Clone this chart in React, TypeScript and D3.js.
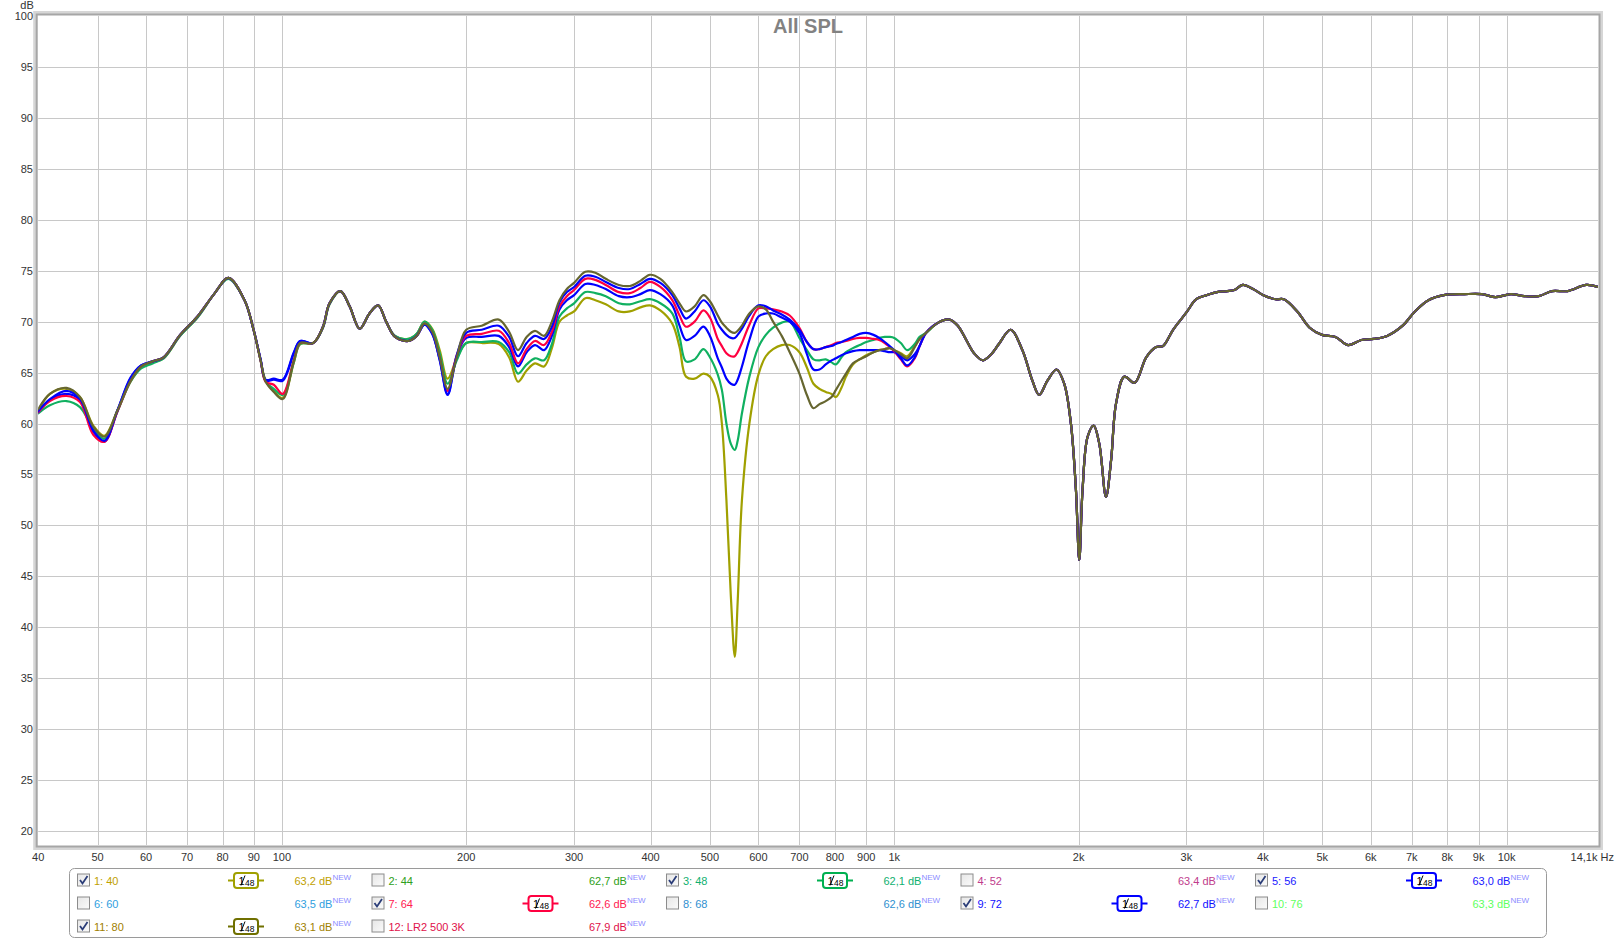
import React from 'react';
import * as d3 from 'd3';

const W = 1617;
const H = 940;
const PLOT = { left: 38.2, right: 1598, top: 16, bottom: 845 };

// ---------- data ----------
const LM_FREQ = [40, 41.8, 44.5, 46.8, 49.2, 51.3, 53.9, 56.6, 58.9, 61.5,
  64.1, 68.2, 72.8, 77.7, 81.8, 86.9, 89.9, 92.3, 94.1, 97,
  100.3, 104.6, 107.1, 112.5, 116.7, 119.6, 124.6, 129, 134, 139,
  143.6, 148, 153, 161, 166, 171, 176, 181, 186.5, 193,
  200, 212, 226, 235, 243, 251, 259, 268, 276, 284,
  292, 300, 313, 325, 338, 355, 370, 385, 399, 415,
  434, 446, 457, 472, 488, 500, 515, 523, 532, 541,
  549, 555, 564, 580, 600, 617, 634, 655, 675, 700,
  720, 738, 755, 773, 790, 803, 820, 834, 856, 878,
  900, 925, 945, 965, 983, 1000, 1025, 1050, 1080, 1100];

const S1_40 = [61.2, 62.9, 63.4, 62.6, 59.8, 58.8, 61.3, 64.1, 65.5, 66.0,
  66.4, 68.6, 70.4, 72.8, 74.3, 72.1, 69.2, 66.2, 64.2, 63.2,
  62.5, 66.0, 67.8, 67.9, 69.4, 71.7, 73.0, 71.5, 69.3, 70.8,
  71.6, 70.0, 68.6, 68.3, 68.8, 70.0, 69.3, 67.2, 64.4, 66.4,
  67.9, 67.9, 67.8, 66.5, 64.1, 65.2, 65.9, 65.6, 67.4, 70.0,
  70.6, 71.0, 72.3, 72.1, 71.7, 71.0, 71.0, 71.4, 71.6, 71.1,
  69.8, 67.5, 64.6, 64.4, 64.9, 64.6, 62.8, 60.0, 52.5, 43.0,
  37.1, 42.5, 52.5, 60.0, 64.8, 66.6, 67.3, 67.7, 67.7, 67.0,
  65.5, 63.9, 63.4, 63.1, 62.9, 62.6, 63.5, 64.6, 65.8, 66.3,
  66.7, 67.0, 67.2, 67.3, 67.4, 67.2, 66.9, 66.6, 67.6, 68.3];

const S3_48 = [61.0, 61.8, 62.2, 61.6, 59.5, 58.5, 61.2, 64.1, 65.4, 65.9,
  66.4, 68.6, 70.4, 72.8, 74.2, 72.1, 69.2, 66.2, 64.1, 63.4,
  62.8, 66.0, 67.8, 67.9, 69.4, 71.7, 73.0, 71.5, 69.3, 70.8,
  71.6, 70.0, 68.6, 68.3, 68.8, 70.0, 69.2, 66.9, 63.9, 66.2,
  67.9, 68.0, 68.0, 67.0, 64.9, 65.8, 66.4, 66.2, 67.8, 70.5,
  71.3, 71.8, 72.9, 72.8, 72.5, 71.8, 71.7, 72.0, 72.2, 71.8,
  70.8, 68.5, 66.1, 66.3, 67.3, 66.5, 64.8, 63.3, 60.0, 58.0,
  57.4, 58.3, 61.0, 64.6, 67.5, 68.7, 69.4, 69.9, 70.0, 68.4,
  67.2, 66.3, 66.2, 66.3, 66.0, 65.8, 66.5, 67.0, 67.4, 67.7,
  68.0, 68.2, 68.4, 68.5, 68.5, 68.4, 67.9, 67.2, 67.8, 68.5];

const S5_56 = [61.1, 62.3, 62.9, 62.3, 59.2, 58.2, 61.3, 64.4, 65.7, 66.1,
  66.5, 68.7, 70.5, 72.8, 74.3, 72.1, 69.2, 66.3, 64.2, 64.3,
  64.2, 66.9, 68.1, 67.9, 69.5, 71.8, 73.0, 71.5, 69.3, 70.8,
  71.6, 70.0, 68.5, 68.1, 68.6, 69.7, 68.8, 66.3, 62.9, 66.6,
  68.4, 68.5, 68.6, 67.5, 65.6, 67.0, 67.7, 67.2, 68.6, 71.2,
  72.1, 72.6, 73.7, 73.6, 73.2, 72.5, 72.4, 72.7, 73.1, 72.7,
  71.6, 69.6, 68.2, 68.6, 69.5, 68.6, 66.4, 65.5, 64.4, 63.9,
  63.8, 64.3, 65.6, 68.2, 70.5, 70.8, 70.8, 70.4, 70.0, 68.9,
  66.8, 65.3, 65.3, 65.8, 66.2, 66.4, 66.7, 66.9, 67.1, 67.2,
  67.2, 67.2, 67.2, 67.1, 67.0, 67.0, 66.6, 66.2, 66.8, 67.6];

const S7_64 = [61.1, 62.2, 62.7, 62.1, 58.9, 58.2, 61.2, 64.2, 65.6, 66.1,
  66.5, 68.7, 70.5, 72.8, 74.3, 72.1, 69.2, 66.2, 64.1, 63.8,
  62.9, 66.2, 67.9, 67.9, 69.5, 71.8, 73.0, 71.5, 69.3, 70.8,
  71.6, 70.0, 68.5, 68.1, 68.6, 69.8, 68.9, 66.4, 63.2, 66.7,
  68.6, 68.8, 69.1, 67.9, 65.9, 67.3, 68.1, 67.7, 69.0, 71.5,
  72.5, 73.1, 74.2, 74.1, 73.6, 72.9, 72.8, 73.3, 73.9, 73.4,
  72.1, 70.6, 69.5, 70.0, 71.1, 70.4, 68.3, 67.6, 66.9, 66.6,
  66.6, 67.0, 67.9, 69.7, 71.3, 71.3, 71.2, 71.0, 70.6, 69.4,
  68.0, 67.3, 67.3, 67.5, 67.7, 67.9, 68.0, 68.1, 68.3, 68.4,
  68.4, 68.3, 68.2, 67.9, 67.5, 67.1, 66.3, 65.6, 66.4, 67.6];

const S9_72 = [61.2, 62.4, 63.2, 62.4, 59.3, 58.3, 61.3, 64.5, 65.7, 66.1,
  66.5, 68.7, 70.5, 72.8, 74.3, 72.1, 69.2, 66.3, 64.3, 64.4,
  64.3, 67.0, 68.1, 67.9, 69.5, 71.8, 73.0, 71.5, 69.3, 70.8,
  71.6, 70.0, 68.5, 68.1, 68.6, 69.7, 68.8, 66.2, 62.8, 66.7,
  68.9, 69.2, 69.6, 68.5, 66.6, 67.9, 68.6, 68.3, 69.5, 71.9,
  72.9, 73.4, 74.5, 74.4, 73.9, 73.3, 73.2, 73.7, 74.2, 73.8,
  72.6, 71.3, 70.3, 71.0, 72.1, 71.5, 69.8, 69.2, 68.7, 68.4,
  68.4, 68.7, 69.3, 70.6, 71.6, 71.5, 71.1, 70.7, 70.2, 69.2,
  68.0, 67.3, 67.3, 67.5, 67.6, 67.8, 68.0, 68.2, 68.5, 68.8,
  68.9, 68.7, 68.4, 68.0, 67.6, 67.2, 66.4, 65.7, 66.5, 67.6];

const S11_80 = [61.4, 62.9, 63.5, 62.6, 59.7, 58.7, 61.3, 64.2, 65.6, 66.1,
  66.5, 68.7, 70.5, 72.8, 74.3, 72.1, 69.2, 66.2, 64.1, 63.1,
  62.4, 66.2, 67.9, 67.9, 69.5, 71.8, 73.0, 71.5, 69.3, 70.8,
  71.6, 70.0, 68.5, 68.1, 68.6, 69.8, 69.0, 66.5, 63.4, 66.5,
  69.2, 69.6, 70.2, 69.0, 67.2, 68.5, 69.1, 68.6, 70.0, 72.1,
  73.2, 73.8, 74.9, 74.8, 74.2, 73.6, 73.5, 74.0, 74.6, 74.2,
  72.9, 71.8, 71.0, 71.5, 72.6, 72.0, 70.6, 69.9, 69.4, 69.0,
  68.9, 69.1, 69.6, 70.8, 71.5, 71.2, 70.0, 68.6, 67.0, 64.9,
  62.8, 61.5, 61.9, 62.2, 62.6, 63.3, 64.2, 64.9, 65.9, 66.3,
  66.6, 67.0, 67.2, 67.3, 67.4, 67.2, 66.8, 66.4, 67.5, 68.3];

const HI_FREQ = [1127, 1180, 1231, 1270, 1311, 1350, 1396, 1440, 1482, 1549,
  1619, 1681, 1724, 1779, 1841, 1895, 1943, 1980, 2005, 2030,
  2069, 2117, 2162, 2217, 2260, 2303, 2376, 2469, 2579, 2678,
  2747, 2853, 3000, 3113, 3237, 3365, 3497, 3593, 3708, 3854,
  4006, 4196, 4328, 4552, 4768, 4996, 5254, 5508, 5791, 6068,
  6380, 6763, 7084, 7452, 7896, 8534, 9117, 9584, 10160, 10688,
  11280, 11864, 12576, 13489, 14100];

const HI_COMMON = [68.9, 69.9, 70.2, 69.6, 68.2, 66.9, 66.2, 66.8, 67.8, 69.2,
  67.2, 64.2, 62.8, 64.2, 65.3, 63.9, 60.0, 53.5, 46.6, 53.5,
  58.7, 59.8, 58.0, 52.8, 56.4, 62.0, 64.6, 64.0, 66.5, 67.5,
  67.6, 69.2, 70.9, 72.2, 72.6, 72.9, 73.0, 73.1, 73.6, 73.2,
  72.6, 72.2, 72.2, 71.0, 69.4, 68.7, 68.5, 67.7, 68.2, 68.3,
  68.6, 69.6, 71.0, 72.1, 72.6, 72.7, 72.7, 72.4, 72.7, 72.5,
  72.5, 73.0, 73.0, 73.6, 73.4];

const Y_TICKS = [20, 25, 30, 35, 40, 45, 50, 55, 60, 65, 70, 75, 80, 85, 90, 95, 100];
const X_TICKS = [40, 50, 60, 70, 80, 90, 100, 200, 300, 400, 500, 600, 700, 800, 900,
  1000, 2000, 3000, 4000, 5000, 6000, 7000, 8000, 9000, 10000];
const X_TICK_LABELS = ['40', '50', '60', '70', '80', '90', '100', '200', '300', '400', '500',
  '600', '700', '800', '900', '1k', '2k', '3k', '4k', '5k', '6k', '7k', '8k', '9k', '10k'];
const X_END = 14100;
const X_END_LABEL = '14,1k Hz';
const TITLE = 'All SPL';

const LEGEND_LABELS = ['1: 40', '2: 44', '3: 48', '4: 52', '5: 56', '6: 60', '7: 64', '8: 68',
  '9: 72', '10: 76', '11: 80', '12: LR2 500 3K'];
const LEGEND_DB = ['63,2', '62,7', '62,1', '63,4', '63,0', '63,5', '62,6', '62,6', '62,7',
  '63,3', '63,1', '67,9'];
const LEGEND_CHECKED = [true, false, true, false, true, false, true, false, true, false, true, false];
const LEGEND_TEXT_COLORS = ['#c0a000', '#2ea020', '#10b070', '#c03c8c', '#2020ff', '#30a0e0',
  '#ff2050', '#3090d0', '#1010ff', '#60ff60', '#a08000', '#e0104a'];
const LEGEND_BADGE_COLORS = ['#a0a000', null, '#00b050', null, '#0000ff', null, '#ff0040', null,
  '#0000ff', null, '#707000', null];

const SERIES = [
  { id: 1, color: '#a0a000', values: S1_40 },
  { id: 3, color: '#10b060', values: S3_48 },
  { id: 5, color: '#0000ff', values: S5_56 },
  { id: 7, color: '#ff0040', values: S7_64 },
  { id: 9, color: '#0000ff', values: S9_72 },
  { id: 11, color: '#666630', values: S11_80 },
];

const FONT = '"Liberation Sans", Arial, sans-serif';

export default function App() {
  const x = d3.scaleLog().domain([40, X_END]).range([PLOT.left, PLOT.right]);
  const y = d3.scaleLinear().domain([20, 100]).range([831, 16]);
  const freqs = LM_FREQ.concat(HI_FREQ);
  const line = d3
    .line<[number, number]>()
    .x((d) => x(d[0]))
    .y((d) => y(d[1]))
    .curve(d3.curveCatmullRom.alpha(0.5));

  const crisp = (v: number) => Math.round(v) + 0.5;

  const rowsY = [880.5, 903.5, 926.5];
  const colW = 294.5;

  return (
    <svg
      width={W}
      height={H}
      viewBox={`0 0 ${W} ${H}`}
      style={{ position: 'absolute', left: 0, top: 0, background: '#fff' }}
      fontFamily={FONT}
    >
      <defs>
        <clipPath id="plotClip">
          <rect x={PLOT.left} y={PLOT.top} width={PLOT.right - PLOT.left} height={PLOT.bottom - PLOT.top} />
        </clipPath>
        <linearGradient id="cbGrad" x1="0" y1="0" x2="1" y2="1">
          <stop offset="0" stopColor="#e6e6e6" />
          <stop offset="1" stopColor="#fbfbfb" />
        </linearGradient>
      </defs>
      <rect x={0} y={0} width={W} height={H} fill="#fff" />

      {/* grid */}
      <g>
        {X_TICKS.slice(1).map((t) => (
          <line key={'gx' + t} x1={crisp(x(t))} x2={crisp(x(t))} y1={PLOT.top} y2={PLOT.bottom} stroke="#c8c8c8" strokeWidth={1} />
        ))}
        {Y_TICKS.slice(0, -1).map((t) => (
          <line key={'gy' + t} x1={PLOT.left} x2={PLOT.right} y1={crisp(y(t))} y2={crisp(y(t))} stroke="#c8c8c8" strokeWidth={1} />
        ))}
      </g>

      {/* title */}
      <text x={808} y={33} textAnchor="middle" fontSize={20} fontWeight="bold" fill="#828282">{TITLE}</text>

      {/* curves */}
      <g clipPath="url(#plotClip)">
        {SERIES.map((s) => {
          const vals = s.values.concat(HI_COMMON);
          const pts: [number, number][] = freqs.map((f, i) => [f, vals[i]]);
          return (
            <path key={s.id} d={line(pts) || ''} fill="none" stroke={s.color} strokeWidth={2.2} strokeLinejoin="round" strokeLinecap="round" />
          );
        })}
      </g>

      {/* frame */}
      <rect x={PLOT.left - 3} y={PLOT.top - 3} width={PLOT.right - PLOT.left + 6} height={PLOT.bottom - PLOT.top + 6} fill="none" stroke="#d6d6d6" strokeWidth={4} />
      <rect x={PLOT.left - 1.5} y={PLOT.top - 1.5} width={PLOT.right - PLOT.left + 3} height={PLOT.bottom - PLOT.top + 3} fill="none" stroke="#a6a6a6" strokeWidth={2} />

      {/* y axis labels */}
      <text x={27} y={9} textAnchor="middle" fontSize={11} fill="#333">dB</text>
      {Y_TICKS.map((t) => (
        <text key={'yl' + t} x={33} y={y(t) + 4} textAnchor="end" fontSize={11} fill="#333">{t}</text>
      ))}

      {/* x axis labels */}
      {X_TICKS.map((t, i) => (
        <text key={'xl' + t} x={x(t)} y={861} textAnchor="middle" fontSize={11} fill="#333">{X_TICK_LABELS[i]}</text>
      ))}
      <text x={1614} y={861} textAnchor="end" fontSize={11} fill="#333">{X_END_LABEL}</text>

      {/* legend */}
      <rect x={69.5} y={868.5} width={1477} height={69} rx={5} fill="none" stroke="#9a9a9a" strokeWidth={1} />
      {LEGEND_LABELS.map((lab, i) => {
        const g = i % 5;
        const r = Math.floor(i / 5);
        const cy = rowsY[r];
        const bx = 77.5 + colW * g;
        const col = LEGEND_TEXT_COLORS[i];
        const badge = LEGEND_BADGE_COLORS[i];
        const bcx = 246 + colW * g;
        return (
          <g key={'lg' + i}>
            <rect x={bx} y={cy - 6.5} width={12} height={12} fill="url(#cbGrad)" stroke="#8c8c8c" strokeWidth={1} />
            {LEGEND_CHECKED[i] && (
              <path d={`M${bx + 2.5},${cy - 0.5} L${bx + 5},${cy + 3} L${bx + 10},${cy - 4.5}`} fill="none" stroke="#2b3d78" strokeWidth={1.8} />
            )}
            <text x={94 + colW * g} y={cy + 4} fontSize={11} fill={col}>{lab}</text>
            {badge && (
              <g>
                <line x1={bcx - 18} x2={bcx + 18} y1={cy} y2={cy} stroke={badge} strokeWidth={2} />
                <rect x={bcx - 12} y={cy - 7.5} width={24} height={15} rx={3} fill="#fff" stroke={badge} strokeWidth={2} />
                <text x={bcx - 7.5} y={cy + 4.5} fontSize={11} fill="#000">1</text>
                <line x1={bcx - 5} x2={bcx - 1} y1={cy + 5} y2={cy - 5} stroke="#000" strokeWidth={1} />
                <text x={bcx - 1} y={cy + 5.5} fontSize={8.5} fill="#000">48</text>
              </g>
            )}
            <text x={294.5 + colW * g} y={cy + 4} fontSize={11} fill={col}>
              {LEGEND_DB[i] + ' dB'}
              <tspan fontSize={8} fill="#8c8cff" dy={-5}>NEW</tspan>
            </text>
          </g>
        );
      })}
    </svg>
  );
}
